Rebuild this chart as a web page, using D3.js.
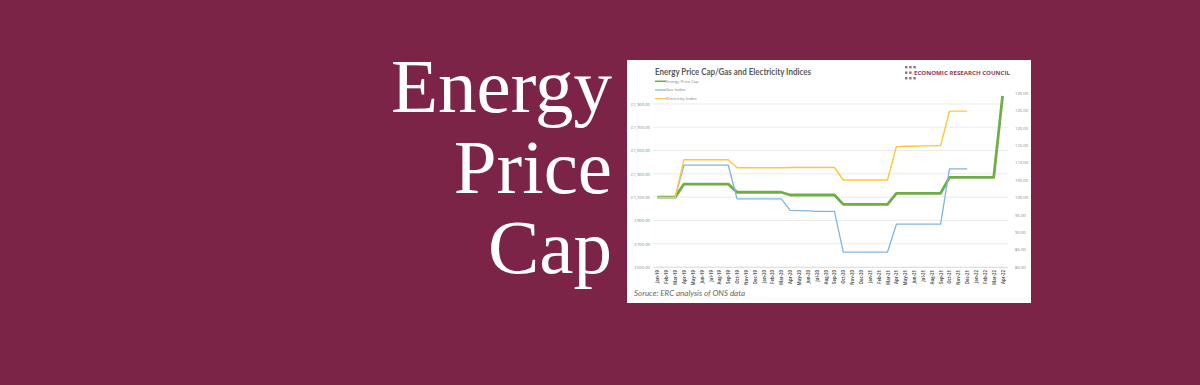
<!DOCTYPE html>
<html>
<head>
<meta charset="utf-8">
<script src="https://cdn.jsdelivr.net/npm/d3@7"></script>
<style>
  html, body { margin: 0; padding: 0; background: #7b2447; overflow: hidden; }
  svg { display: block; }
</style>
</head>
<body>
<div id="chart"></div>
<script>
// Monthly categories, Jan-19 .. Apr-22
const months = [
  "Jan-19","Feb-19","Mar-19","Apr-19","May-19","Jun-19","Jul-19","Aug-19","Sep-19","Oct-19","Nov-19","Dec-19",
  "Jan-20","Feb-20","Mar-20","Apr-20","May-20","Jun-20","Jul-20","Aug-20","Sep-20","Oct-20","Nov-20","Dec-20",
  "Jan-21","Feb-21","Mar-21","Apr-21","May-21","Jun-21","Jul-21","Aug-21","Sep-21","Oct-21","Nov-21","Dec-21",
  "Jan-22","Feb-22","Mar-22","Apr-22"
];

// Energy Price Cap (£, left axis)
const priceCap = [
  1100, 1100, 1100,
  1212, 1212, 1212, 1212, 1212, 1212,
  1142, 1142, 1142, 1142, 1142, 1142,
  1118, 1118, 1118, 1118, 1118, 1118,
  1038, 1038, 1038, 1038, 1038, 1038,
  1133, 1133, 1133, 1133, 1133, 1133,
  1270, 1270, 1270, 1270, 1270, 1270,
  1970
];

// Gas Index (right axis)
const gasIndex = [
  100, 100, 100,
  109.3, 109.3, 109.3, 109.3, 109.3, 109.3,
  99.6, 99.6, 99.6, 99.6, 99.6, 99.6,
  96.3, 96.2, 96.1, 96.0, 96.0, 96.0,
  84.3, 84.3, 84.3, 84.3, 84.3, 84.3,
  92.3, 92.3, 92.3, 92.3, 92.3, 92.3,
  108.2, 108.2, 108.2,
  null, null, null, null
];

// Electricity Index (right axis)
const elecIndex = [
  100, 100, 100,
  110.8, 110.8, 110.8, 110.8, 110.8, 110.8,
  108.5, 108.5, 108.5, 108.5, 108.5, 108.5,
  108.6, 108.6, 108.6, 108.6, 108.6, 108.6,
  105.0, 105.0, 105.0, 105.0, 105.0, 105.0,
  114.6, 114.7, 114.7, 114.8, 114.8, 114.9,
  124.8, 124.8, 124.8,
  null, null, null, null
];

const leftTicks = [500, 700, 900, 1100, 1300, 1500, 1700, 1900];
const rightTicks = [80, 85, 90, 95, 100, 105, 110, 115, 120, 125, 130];
const headline = ["Energy", "Price", "Cap"];

const width = 1200, height = 385;

const svg = d3.select("#chart").append("svg")
    .attr("width", width)
    .attr("height", height);

svg.append("rect")
    .attr("width", width).attr("height", height)
    .attr("fill", "#7b2447");

// Big headline
svg.append("g")
  .selectAll("text")
  .data(headline)
  .enter().append("text")
    .attr("x", 612)
    .attr("y", (d, i) => 112 + i * 80.5)
    .attr("text-anchor", "end")
    .attr("fill", "#ffffff")
    .style("font-family", "'Liberation Serif', 'DejaVu Serif', serif")
    .style("font-size", "77px")
    .text(d => d);

// White chart panel
svg.append("rect")
    .attr("x", 627).attr("y", 60)
    .attr("width", 404).attr("height", 243)
    .attr("fill", "#ffffff");

// Scales
const x = d3.scalePoint()
    .domain(months)
    .range([653, 1007])
    .padding(0.5);

const yLeft = d3.scaleLinear().domain([500, 2000]).range([267, 92.3]);
const yRight = d3.scaleLinear().domain([80, 130]).range([267, 93]);

// Gridlines
svg.append("g")
  .selectAll("line")
  .data(leftTicks)
  .enter().append("line")
    .attr("x1", 653).attr("x2", 1008)
    .attr("y1", d => yLeft(d)).attr("y2", d => yLeft(d))
    .attr("stroke", "#e4e4e4")
    .attr("stroke-width", 0.8);

// Left axis
const leftAxis = svg.append("g")
    .attr("transform", "translate(653,0)")
    .call(d3.axisLeft(yLeft).tickValues(leftTicks).tickSize(0).tickPadding(3)
      .tickFormat(d => "£" + d3.format(",.2f")(d)));
leftAxis.select(".domain").remove();
leftAxis.selectAll("text")
    .attr("fill", "#808080")
    .style("font-family", "'Open Sans', sans-serif")
    .style("font-size", "4.2px");

// Right axis
const rightAxis = svg.append("g")
    .attr("transform", "translate(1012,0)")
    .call(d3.axisRight(yRight).tickValues(rightTicks).tickSize(0).tickPadding(3)
      .tickFormat(d3.format(".2f")));
rightAxis.select(".domain").remove();
rightAxis.selectAll("text")
    .attr("fill", "#808080")
    .style("font-family", "'Open Sans', sans-serif")
    .style("font-size", "4.2px");

// Category axis
const xAxis = svg.append("g")
    .attr("transform", "translate(0,267)")
    .call(d3.axisBottom(x).tickSize(0).tickPadding(2));
xAxis.select(".domain").attr("stroke", "#d9d9d9").attr("stroke-width", 0.8);
xAxis.selectAll("text")
    .attr("transform", "rotate(-90)")
    .attr("text-anchor", "end")
    .attr("x", -3)
    .attr("y", 0)
    .attr("dy", "0.35em")
    .attr("fill", "#595959")
    .style("font-family", "'Open Sans', sans-serif")
    .style("font-weight", "bold")
    .style("font-size", "4.3px");

// Lines
const capLine = d3.line()
    .x((d, i) => x(months[i]))
    .y(d => yLeft(d));

const indexLine = d3.line()
    .defined(d => d !== null)
    .x((d, i) => x(months[i]))
    .y(d => yRight(d));

svg.append("path")
    .datum(priceCap)
    .attr("d", capLine)
    .attr("fill", "none")
    .attr("stroke", "#70ad47")
    .attr("stroke-width", 2.8)
    .attr("stroke-linejoin", "round");

svg.append("path")
    .datum(gasIndex)
    .attr("d", indexLine)
    .attr("fill", "none")
    .attr("stroke", "#83b3e2")
    .attr("stroke-width", 1.3)
    .attr("stroke-linejoin", "round");

svg.append("path")
    .datum(elecIndex)
    .attr("d", indexLine)
    .attr("fill", "none")
    .attr("stroke", "#ffc738")
    .attr("stroke-width", 1.4)
    .attr("stroke-linejoin", "round");

// Title
svg.append("text")
    .attr("x", 655).attr("y", 75)
    .attr("fill", "#595959")
    .attr("textLength", 156)
    .attr("lengthAdjust", "spacingAndGlyphs")
    .style("font-family", "Lato, 'Open Sans', sans-serif")
    .style("font-weight", "bold")
    .style("font-size", "9px")
    .text("Energy Price Cap/Gas and Electricity Indices");

// Legend
const legendItems = [
  { name: "Energy Price Cap", color: "#70ad47", w: 1.6 },
  { name: "Gas Index", color: "#83b3e2", w: 1.2 },
  { name: "Electricity Index", color: "#ffc738", w: 1.2 }
];
const legend = svg.append("g")
  .selectAll("g")
  .data(legendItems)
  .enter().append("g")
    .attr("transform", (d, i) => `translate(655,${81.3 + i * 8.7})`);
legend.append("line")
    .attr("x1", 0).attr("x2", 11)
    .attr("stroke", d => d.color)
    .attr("stroke-width", d => d.w);
legend.append("text")
    .attr("x", 11).attr("dy", "0.35em")
    .attr("fill", "#808080")
    .style("font-family", "'Open Sans', sans-serif")
    .style("font-size", "4.2px")
    .text(d => d.name);

// Logo: 3x3 dot grid + name
const dots = [];
[0, 1, 2].forEach(r => [0, 1, 2].forEach(c => { if (!(r === 1 && c === 2)) dots.push([r, c]); }));
svg.append("g")
  .selectAll("rect")
  .data(dots)
  .enter().append("rect")
    .attr("x", d => 905 + d[1] * 4.2)
    .attr("y", d => 66 + d[0] * 5.5)
    .attr("width", 2.4).attr("height", 2.4)
    .attr("fill", "#9a6a80");

svg.append("text")
    .attr("x", 914).attr("y", 75)
    .attr("fill", "#8a3a5c")
    .attr("textLength", 96)
    .attr("lengthAdjust", "spacingAndGlyphs")
    .style("font-family", "'Open Sans', sans-serif")
    .style("font-weight", "bold")
    .style("font-size", "5.6px")
    .text("ECONOMIC RESEARCH COUNCIL");

// Source note
svg.append("text")
    .attr("x", 634).attr("y", 296)
    .attr("fill", "#666666")
    .attr("textLength", 111)
    .attr("lengthAdjust", "spacingAndGlyphs")
    .style("font-family", "Lato, 'Open Sans', sans-serif")
    .style("font-style", "italic")
    .style("font-size", "8.5px")
    .text("Soruce: ERC analysis of ONS data");
</script>
</body>
</html>
